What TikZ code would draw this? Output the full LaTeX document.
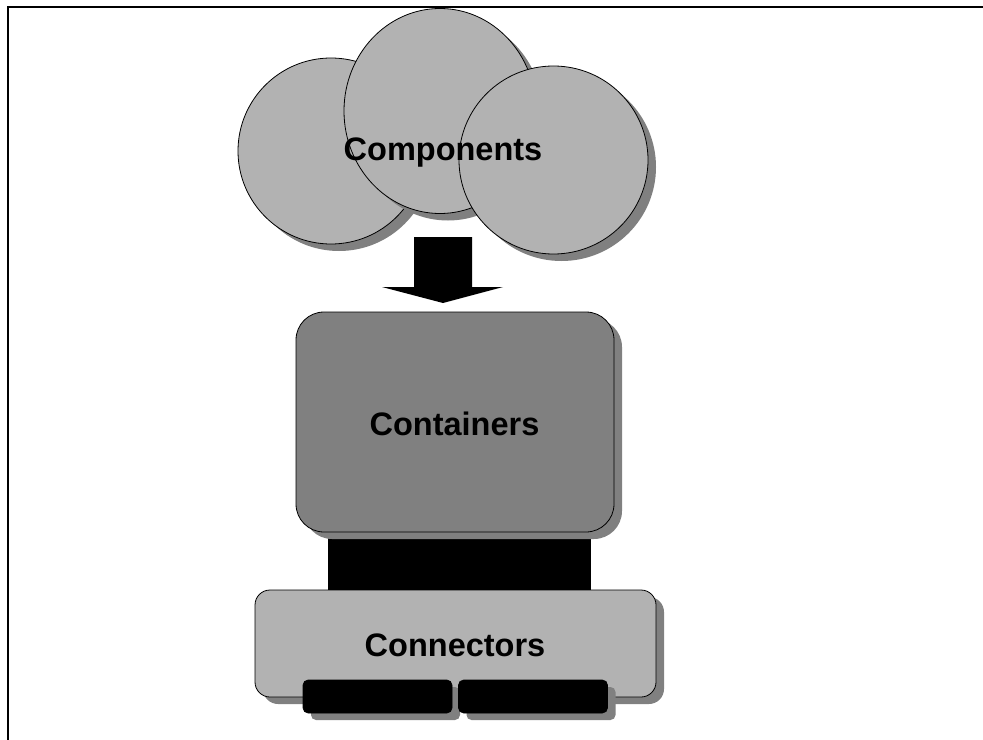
\documentclass[tikz,border=0pt]{standalone}
\usepackage{fontspec}
\setmainfont{Liberation Sans}
\usetikzlibrary{shapes.geometric,shadows}
\definecolor{lightfill}{HTML}{B2B2B2}
\definecolor{midgray}{HTML}{808080}
\tikzset{
  shade8/.style={general shadow={shadow xshift=8bp, shadow yshift=-7bp, fill=midgray, draw=none}},
  blob/.style={ellipse, draw=black, line width=0.8bp, fill=lightfill, inner sep=0pt, shade8},
  label/.style={font=\fontsize{32.5bp}{38bp}\selectfont\bfseries, text=black, anchor=base, inner sep=0pt},
  box/.style={rectangle, draw=black, line width=0.8bp, inner sep=0pt, shade8},
  tab/.style={rectangle, fill=black, draw=black, line width=0.6bp, rounded corners=5bp,
    minimum width=149bp, minimum height=33bp, inner sep=0pt, shade8},
}
\begin{document}
\begin{tikzpicture}[x=1bp,y=-1bp]
  \useasboundingbox (0,0) rectangle (983,740);
  % frame edges
  \draw[line width=2.2bp] (8,740) -- (8,7) -- (983,7);

  % the three component discs
  \node[blob, minimum width=186bp, minimum height=186bp] (c1) at (331,151) {};
  \node[blob, minimum width=192bp, minimum height=205bp] (c2) at (440,111) {};
  \node[blob, minimum width=189bp, minimum height=188bp] (c3) at (553.5,160) {};
  \node[label] (comp) at (443,160) {Components};

  % block arrow into the container
  \coordinate (arrtip) at (443,303);
  \fill[black] (414,237) -- (472,237) -- (472,287) -- (503,287) -- (arrtip)
    -- (382,287) -- (414,287) -- cycle;

  % black bridge between container and connectors
  \node[rectangle, fill=black, inner sep=0pt, minimum width=263bp, minimum height=80bp] (bridge) at (459.5,550) {};

  % container
  \node[box, fill=midgray, rounded corners=28bp, minimum width=318bp, minimum height=220bp] (cont) at (455,422) {};
  \node[label] (contlabel) at (454.5,435) {Containers};

  % connectors base
  \node[box, fill=lightfill, rounded corners=15bp, minimum width=401bp, minimum height=107bp] (conn) at (455.5,643.5) {};
  \node[label] (connlabel) at (455,656) {Connectors};

  % the two connector tabs
  \node[tab] (tabL) at (377.5,696.5) {};
  \node[tab] (tabR) at (533,696.5) {};
\end{tikzpicture}
\end{document}
